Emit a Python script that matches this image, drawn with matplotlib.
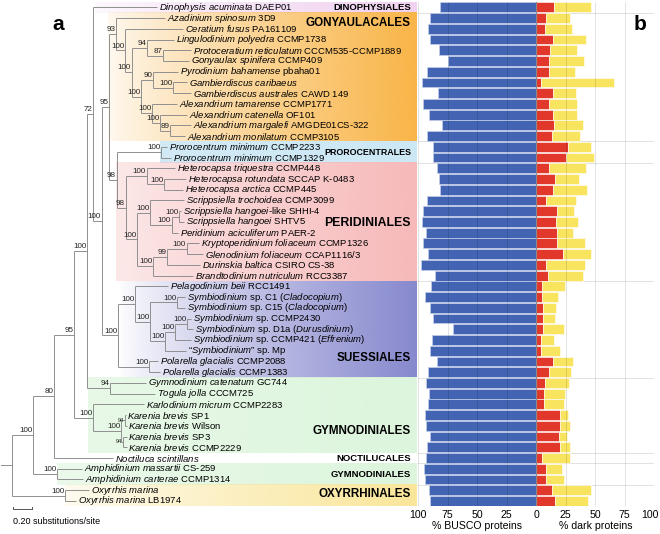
import re
import numpy as np
import matplotlib.pyplot as plt
from matplotlib.colors import to_rgb
from matplotlib.transforms import ScaledTranslation

plt.rcParams['font.family'] = ['Liberation Sans', 'DejaVu Sans']
plt.rcParams['mathtext.fontset'] = 'custom'
plt.rcParams['mathtext.rm'] = 'Liberation Sans'
plt.rcParams['mathtext.it'] = 'Liberation Sans:italic'
plt.rcParams['mathtext.bf'] = 'Liberation Sans:bold'

##### data #####

# tip labels, top to bottom (tip "n" in the tree = taxa[n-1])
taxa = [
    r'$\it{Dinophysis\ acuminata}$ DAEP01',
    r'$\it{Azadinium\ spinosum}$ 3D9',
    r'$\it{Ceratium\ fusus}$ PA161109',
    r'$\it{Lingulodinium\ polyedra}$ CCMP1738',
    r'$\it{Protoceratium\ reticulatum}$ CCCM535-CCMP1889',
    r'$\it{Gonyaulax\ spinifera}$ CCMP409',
    r'$\it{Pyrodinium\ bahamense}$ pbaha01',
    r'$\it{Gambierdiscus\ caribaeus}$',
    r'$\it{Gambierdiscus\ australes}$ CAWD 149',
    r'$\it{Alexandrium\ tamarense}$ CCMP1771',
    r'$\it{Alexandrium\ catenella}$ OF101',
    r'$\it{Alexandrium\ margalefi}$ AMGDE01CS-322',
    r'$\it{Alexandrium\ monilatum}$ CCMP3105',
    r'$\it{Prorocentrum\ minimum}$ CCMP2233',
    r'$\it{Prorocentrum\ minimum}$ CCMP1329',
    r'$\it{Heterocapsa\ triquestra}$ CCMP448',
    r'$\it{Heterocapsa\ rotundata}$ SCCAP K-0483',
    r'$\it{Heterocapsa\ arctica}$ CCMP445',
    r'$\it{Scrippsiella\ trochoidea}$ CCMP3099',
    r'$\it{Scrippsiella\ hangoei}$-like SHHI-4',
    r'$\it{Scrippsiella\ hangoei}$ SHTV5',
    r'$\it{Peridinium\ aciculiferum}$ PAER-2',
    r'$\it{Kryptoperidinium\ foliaceum}$ CCMP1326',
    r'$\it{Glenodinium\ foliaceum}$ CCAP1116/3',
    r'$\it{Durinskia\ baltica}$ CSIRO CS-38',
    r'$\it{Brandtodinium\ nutriculum}$ RCC3387',
    r'$\it{Pelagodinium\ beii}$ RCC1491',
    r'$\it{Symbiodinium}$ sp. C1 ($\it{Cladocopium}$)',
    r'$\it{Symbiodinium}$ sp. C15 ($\it{Cladocopium}$)',
    r'$\it{Symbiodinium}$ sp. CCMP2430',
    r'$\it{Symbiodinium}$ sp. D1a ($\it{Durusdinium}$)',
    r'$\it{Symbiodinium}$ sp. CCMP421 ($\it{Effrenium}$)',
    r'“$\it{Symbiodinium}$” sp. Mp',
    r'$\it{Polarella\ glacialis}$ CCMP2088',
    r'$\it{Polarella\ glacialis}$ CCMP1383',
    r'$\it{Gymnodinium\ catenatum}$ GC744',
    r'$\it{Togula\ jolla}$ CCCM725',
    r'$\it{Karlodinium\ micrum}$ CCMP2283',
    r'$\it{Karenia\ brevis}$ SP1',
    r'$\it{Karenia\ brevis}$ Wilson',
    r'$\it{Karenia\ brevis}$ SP3',
    r'$\it{Karenia\ brevis}$ CCMP2229',
    r'$\it{Noctiluca\ scintillans}$',
    r'$\it{Amphidinium\ massartii}$ CS-259',
    r'$\it{Amphidinium\ carterae}$ CCMP1314',
    r'$\it{Oxyrrhis\ marina}$',
    r'$\it{Oxyrrhis\ marina}$ LB1974',
]

# ML tree, branch lengths in substitutions/site, bootstrap as node labels
newick = ("((((((1:0.674,(((2:0.516,(3:0.611,((4:0.287,(5:0.295,6:0.274)87:0.172)94:0.158,"
          "((7:0.266,(8:0.147,9:0.189)100:0.214)90:0.123,(10:0.263,(11:0.284,(12:0.221,13:0.158)89:0.105)100:0.084)100:0.116)100:0.098)100:0.071)100:0.095)93:0.071,"
          "((14:0.063,15:0.105)100:0.466,((16:0.298,(17:0.232,18:0.200)100:0.182)100:0.221,"
          "((19:0.358,((20:0.021,21:0.053)100:0.077,22:0.066)100:0.228)100:0.137,"
          "(((23:0.129,24:0.172)100:0.204,25:0.344)99:0.151,26:0.421)100:0.168)100:0.119)98:0.095)98:0.078)95:0.080,"
          "((27:0.347,((28:0.084,29:0.084)100:0.284,(((30:0.042,31:0.063)100:0.126,32:0.168)100:0.105,33:0.221)100:0.158)100:0.158)100:0.179,"
          "(34:0.095,35:0.116)100:0.326)100:0.172)100:0.092)72:0.063,"
          "(36:0.379,37:0.474)94:0.242)100:0.137,"
          "(38:0.537,((39:0.011,40:0.021)94:0.037,(41:0.037,42:0.037)94:0.021)100:0.295)100:0.200)95:0.211,"
          "43:0.621)80:0.221,(44:0.263,45:0.274)100:0.253)100:0.221,"
          "(46:0.253,47:0.116)100:0.558):0.116;")

# % BUSCO proteins
busco = [81.4, 89.8, 91.5, 89.8, 82.5, 74.6, 92.0, 97.0, 83.3, 96.0, 90.7, 79.4, 92.6,
         87.0, 87.6, 83.6, 81.9, 81.1, 92.0, 95.5, 96.3, 93.5, 95.5, 91.5, 97.2, 85.6,
         89.3, 93.8, 90.1, 87.3, 70.6, 88.1, 89.5, 83.6, 91.2, 93.2, 90.7, 91.8, 94.4,
         93.0, 90.1, 92.6, 93.2, 94.9, 94.0, 90.7, 89.5]
# % dark proteins (red part, yellow part stacked on it)
dark_red = [15.3, 8.2, 7.6, 14.7, 12.1, 11.3, 11.3, 4.5, 14.7, 10.7, 14.7, 14.9, 13.6,
            27.1, 25.7, 11.0, 16.1, 14.7, 8.5, 17.8, 16.7, 17.5, 17.8, 22.9, 8.8, 10.5,
            5.1, 5.4, 5.6, 6.2, 6.2, 4.0, 4.0, 14.7, 11.0, 7.9, 6.8, 6.8, 20.0, 20.0,
            19.8, 20.3, 5.4, 8.2, 8.5, 13.3, 16.4]
dark_yellow = [31.6, 20.6, 22.6, 27.7, 22.4, 29.4, 21.5, 61.3, 18.9, 23.8, 20.3, 24.9, 23.7,
               19.5, 23.5, 31.7, 20.3, 28.5, 25.4, 14.1, 18.6, 13.9, 23.4, 24.0, 32.7, 29.3,
               19.5, 13.0, 11.1, 9.9, 17.8, 11.0, 16.0, 16.7, 18.7, 20.3, 18.1, 17.2, 7.4,
               8.5, 6.2, 8.2, 23.1, 13.5, 14.9, 33.0, 27.4]

# orders: name, first row, last row (1-based), colour
clades = [
    ('DINOPHYSIALES', 1, 1, '#F0D2F0'),
    ('GONYAULACALES', 2, 13, '#F9B548'),
    ('PROROCENTRALES', 14, 15, '#CDE8F5'),
    ('PERIDINIALES', 16, 26, '#F7B9B9'),
    ('SUESSIALES', 27, 35, '#8789CE'),
    ('GYMNODINIALES', 36, 42, '#DCF5DC'),
    ('NOCTILUCALES', 43, 43, None),
    ('GYMNODINIALES', 44, 45, '#DCF5DC'),
    ('OXYRRHINALES', 46, 47, '#FAE69A'),
]


##### tree parsing #####
def parse(s):
    pos = 0

    def node():
        nonlocal pos
        kids = []
        if s[pos] == '(':
            pos += 1
            kids.append(node())
            while s[pos] == ',':
                pos += 1
                kids.append(node())
            pos += 1
        name = re.match(r'[^:,();]*', s[pos:]).group(0)
        pos += len(name)
        length = 0.0
        if s[pos] == ':':
            m = re.match(r':([0-9.]+)', s[pos:])
            length = float(m.group(1))
            pos += len(m.group(0))
        return {'name': name, 'len': length, 'kids': kids}
    return node()


def layout(nd, x):
    nd['x'] = x
    if not nd['kids']:
        nd['y'] = int(nd['name']) - 1
        return
    for k in nd['kids']:
        layout(k, x + k['len'])
    nd['y'] = (nd['kids'][0]['y'] + nd['kids'][-1]['y']) / 2


tree = parse(newick)
layout(tree, 0.0)

W, H = 660, 534
fig = plt.figure(figsize=(W / 100, H / 100), dpi=100)
top_px, bot_px = 1.96, 506.3
ax = fig.add_axes([0, 1 - bot_px / H, 417 / W, (bot_px - top_px) / H])
axb = fig.add_axes([418 / W, 1 - bot_px / H, 236 / W, (bot_px - top_px) / H])

x_right = 405 / 95
n = len(taxa)

# coloured boxes with a white -> colour gradient
box_start = [0.87, 1.01, 1.56, 1.10, 1.12, 0.80, None, 0.47, 0.56]
box_alpha0 = [0.1, 0.05, 0.9, 0.25, 0.0, 0.6, None, 0.5, 0.1]
for (name, r0, r1, col), x0, a0 in zip(clades, box_start, box_alpha0):
    if col is None:
        continue
    g = np.zeros((1, 256, 4))
    g[..., :3] = to_rgb(col)
    g[..., 3] = np.linspace(a0, 1, 256) ** 0.8
    ax.imshow(g, extent=(x0, x_right - 0.005, r1 - 0.5, r0 - 1.5), aspect='auto',
              interpolation='bilinear', zorder=0)

# branches
lc = '#8f8f8f'


def draw(nd):
    if nd['kids']:
        ys = [k['y'] for k in nd['kids']]
        ax.plot([nd['x'], nd['x']], [min(ys), max(ys)], color=lc, lw=0.7, zorder=2,
                solid_capstyle='butt')
        for k in nd['kids']:
            ax.plot([nd['x'], k['x']], [k['y'], k['y']], color=lc, lw=0.7, zorder=2,
                    solid_capstyle='butt')
            draw(k)
        if nd['name']:
            small = nd['name'] == '94' and 1.1 < nd['x'] < 1.2
            ax.text(nd['x'] - 0.008, nd['y'] + (0.0 if small else -0.08), nd['name'],
                    ha='right', va='center' if small else 'bottom',
                    fontsize=4 if small else 5.8, color='#222222', zorder=3)
    else:
        ax.text(nd['x'] + 0.018, nd['y'], taxa[int(nd['name']) - 1], ha='left',
                va='center', fontsize=6.8, zorder=3)


draw(tree)
ax.plot([-tree['len'], 0], [tree['y'], tree['y']], color=lc, lw=0.7)

# order labels
lab_y = [0, 1.43, 13.5, 20.1, 32.7, 39.5, 42, 43.5, 45.4]
lab_fs = [6.8, 8.4, 6.4, 8.8, 8.4, 8.4, 6.8, 6.8, 8.4]
for (name, r0, r1, col), y, fs in zip(clades, lab_y, lab_fs):
    ax.text(4.2, y, name, ha='right', va='center', fontsize=fs, fontweight='bold',
            zorder=4)

# scale bar
sb_y = (509 - 7.3) / 10.73
ax.plot([0.01, 0.21], [sb_y, sb_y], color='#555555', lw=0.7, clip_on=False)
for xx in [0.01, 0.21]:
    ax.plot([xx, xx], [sb_y, sb_y - 0.2], color='#555555', lw=0.7, clip_on=False)
ax.text(0.01, sb_y + 1.15, '0.20 substitutions/site', fontsize=6.5, ha='left',
        va='center', clip_on=False)

ax.set_xlim(-12 / 95, 405 / 95)
ax.set_ylim(n - 0.5, -0.5)
ax.axis('off')
fig.text(58 / W, 1 - 25 / H, 'a', fontsize=15, fontweight='bold', ha='center', va='center')

##### bars #####
y = np.arange(n)
for r in [1, 13, 15, 26, 35, 42, 43, 45]:
    axb.axhline(r - 0.5, color='#dddddd', lw=0.6, zorder=0)
axb.barh(y, [-b for b in busco], height=0.92, color='#4363B3', edgecolor='#c5cfec',
         lw=0.5, zorder=2)
axb.barh(y, dark_red, height=0.92, color='#E2382B', edgecolor='white', lw=0.4, zorder=2)
axb.barh(y, dark_yellow, left=dark_red, height=0.92, color='#F8E45E', edgecolor='white',
         lw=0.4, zorder=2)
for v in range(-100, 101, 25):
    if v == 0:
        axb.axvline(v, color='#8a8a8a', lw=0.8, zorder=3)
    else:
        axb.axvline(v, color='black', alpha=0.13, lw=0.6, zorder=3)
axb.set_xlim(-100, 100)
axb.set_ylim(n - 0.5, -0.5)
axb.set_xticks(range(-100, 101, 25))
axb.set_xticklabels([str(abs(v)) for v in range(-100, 101, 25)], fontsize=7.6)
axb.tick_params(axis='x', length=0, pad=2.5)
axb.set_yticks([])
for s in axb.spines.values():
    s.set_visible(False)
lbl = axb.get_xticklabels()[-1]
lbl.set_transform(lbl.get_transform() + ScaledTranslation(-3 / 72, 0, fig.dpi_scale_trans))
fig.text(477 / W, 1 - 526 / H, '% BUSCO proteins', fontsize=7.6, ha='center', va='center')
fig.text(596 / W, 1 - 526 / H, '% dark proteins', fontsize=7.6, ha='center', va='center')
fig.text(640 / W, 1 - 25 / H, 'b', fontsize=15, fontweight='bold', ha='center', va='center')

fig.savefig('out.png', dpi=100)
